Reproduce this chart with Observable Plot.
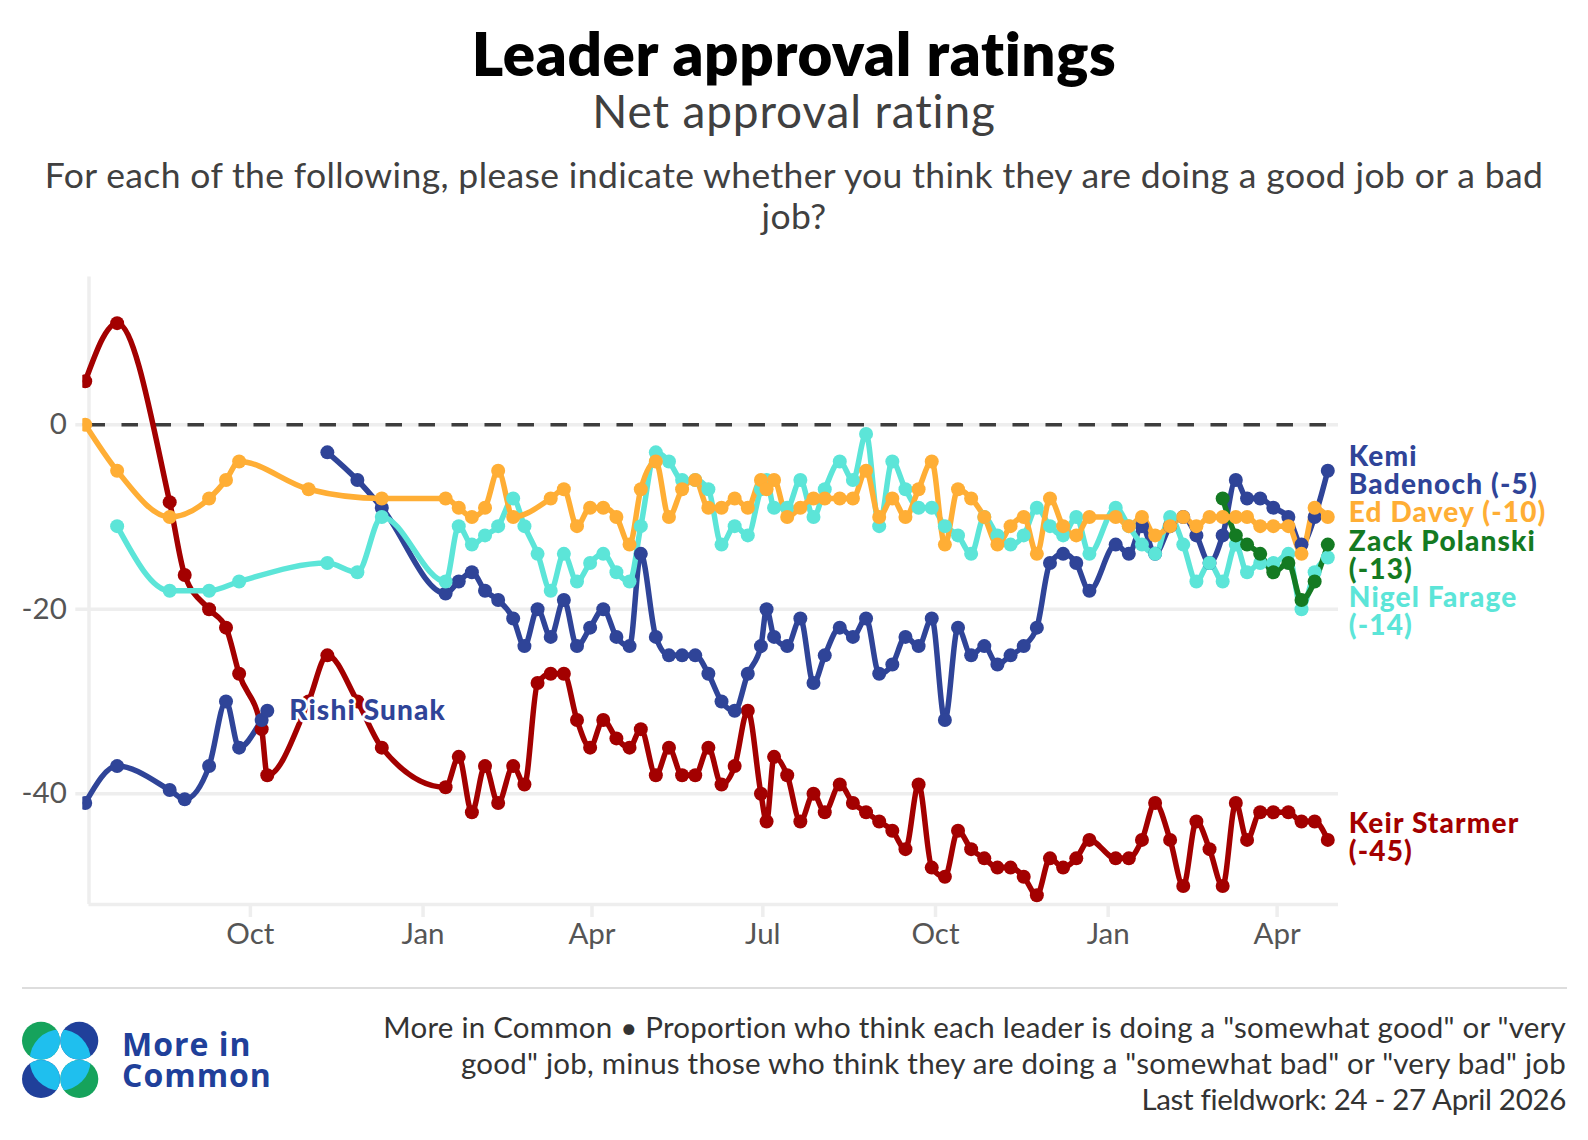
<!DOCTYPE html>
<html lang="en">
<head>
<meta charset="utf-8">
<title>Leader approval ratings</title>
<script src="https://cdn.jsdelivr.net/npm/d3@7"></script>
<script src="https://cdn.jsdelivr.net/npm/@observablehq/plot@0.6"></script>
<style>
  html, body { margin: 0; padding: 0; background: #fff; }
  body { width: 1588px; height: 1140px; position: relative; overflow: hidden; font-family: Lato, sans-serif; }
  .t { position: absolute; left: 0; width: 1588px; text-align: center; white-space: nowrap; }
  #title { top: 18px; font-size: 60px; line-height: 70px; font-weight: 800; letter-spacing: 0.65px; color: #000; }
  #subtitle { top: 84px; font-size: 46px; line-height: 54px; letter-spacing: 0.86px; color: #404040; }
  #question { top: 155px; font-size: 35.5px; line-height: 40.5px; letter-spacing: 0.37px; color: #404040; }
  #chart { position: absolute; left: 0; top: 260px; }
  #rule { position: absolute; left: 22px; width: 1545px; top: 987px; height: 2px; background: #ddd; }
  #foot { position: absolute; right: 22px; top: 1009px; text-align: right; font-size: 29.5px; line-height: 36px; letter-spacing: 0.23px; color: #333; white-space: nowrap; }
  #foot .last { letter-spacing: -0.33px; }
  #logo { position: absolute; left: 0; top: 1000px; }
  #brand { position: absolute; left: 122px; top: 1028px; font-family: "Open Sans", sans-serif; font-weight: 700; font-size: 32px; line-height: 31px; letter-spacing: 1px; color: #20409a; }
  .series-label text { letter-spacing: 1.15px; }
</style>
</head>
<body>
<div id="title" class="t">Leader approval ratings</div>
<div id="subtitle" class="t">Net approval rating</div>
<div id="question" class="t">For each of the following, please indicate whether you think they are doing a good job or a bad<br>job?</div>
<div id="chart"></div>
<div id="rule"></div>
<svg id="logo" width="110" height="110" viewBox="0 1000 110 110" aria-hidden="true">
  <defs><clipPath id="lens"><circle cx="60.2" cy="1060" r="30.5"/></clipPath></defs>
  <circle cx="41" cy="1040.7" r="19" fill="#16a35c"/>
  <circle cx="79.3" cy="1040.7" r="19" fill="#20409a"/>
  <circle cx="41" cy="1079" r="19" fill="#20409a"/>
  <circle cx="79.3" cy="1079" r="19" fill="#16a35c"/>
  <g clip-path="url(#lens)" fill="#1fbfee">
    <circle cx="41" cy="1040.7" r="19"/><circle cx="79.3" cy="1040.7" r="19"/>
    <circle cx="41" cy="1079" r="19"/><circle cx="79.3" cy="1079" r="19"/>
  </g>
</svg>
<div id="brand">More in<br>Common</div>
<div id="foot">More in Common • Proportion who think each leader is doing a "somewhat good" or "very<br>good" job, minus those who think they are doing a "somewhat bad" or "very bad" job<br><span class="last">Last fieldwork: 24 - 27 April 2026</span></div>

<script>
// Survey dates
const earlyDates = ["2024-07-05","2024-07-22","2024-08-19","2024-08-27","2024-09-09","2024-09-18","2024-09-25","2024-10-07","2024-10-10","2024-11-01","2024-11-11","2024-11-27","2024-12-10"];
const weeklyDates = [
  "2025-01-13","2025-01-20","2025-01-27",
  "2025-02-03","2025-02-10","2025-02-18","2025-02-24",
  "2025-03-03","2025-03-10","2025-03-17","2025-03-24","2025-03-31",
  "2025-04-07","2025-04-14","2025-04-21","2025-04-27",
  "2025-05-05","2025-05-12","2025-05-19","2025-05-26",
  "2025-06-02","2025-06-09","2025-06-16","2025-06-23","2025-06-30",
  "2025-07-03","2025-07-07","2025-07-14","2025-07-21","2025-07-28",
  "2025-08-03","2025-08-11","2025-08-18","2025-08-25",
  "2025-09-01","2025-09-08","2025-09-15","2025-09-22","2025-09-29",
  "2025-10-06","2025-10-13","2025-10-20","2025-10-27",
  "2025-11-03","2025-11-10","2025-11-17","2025-11-24",
  "2025-12-01","2025-12-08","2025-12-15","2025-12-22",
  "2026-01-05","2026-01-12","2026-01-19","2026-01-26",
  "2026-02-03","2026-02-10","2026-02-17","2026-02-24",
  "2026-03-03","2026-03-10","2026-03-16","2026-03-23","2026-03-30",
  "2026-04-07","2026-04-14","2026-04-21","2026-04-28"
];

// Net approval, early period (null = not asked that round)
const starmerEarly = [4.7,11,-8.4,-16.3,-20,-22,-27,-33,-38,-30,-25,-30,-35];
const daveyEarly   = [0,-5,-10,null,-8,-6,-4,null,null,-7,null,null,-8];
const farageEarly  = [null,-11,-18,null,-18,null,-17,null,null,null,-15,-16,-10];
const sunakEarly   = [-41,-37,-39.6,-40.6,-37,-30,-35,-32,-31,null,null,null,null];
const kemiEarly    = [null,null,null,null,null,null,null,null,null,null,-3,-6,-9];

// Net approval, weekly period
const starmerWeekly = [
  -39.3,-36,-42, -37,-41,-37,-39, -28,-27,-27,-32,-35, -32,-34,-35,-33,
  -38,-35,-38,-38, -35,-39,-37,-31,-40, -43,-36,-38,-43,-40, -42,-39,-41,-42,
  -43,-44,-46,-39,-48, -49,-44,-46,-47, -48,-48,-49,-51, -47,-48,-47,-45,
  -47,-47,-45,-41, -45,-50,-43,-46, -50,-41,-45,-42,-42, -42,-43,-43,-45
];
const kemiWeekly = [
  -18.3,-17,-16, -18,-19,-21,-24, -20,-23,-19,-24,-22, -20,-23,-24,-14,
  -23,-25,-25,-25, -27,-30,-31,-27,-24, -20,-23,-24,-21,-28, -25,-22,-23,-21,
  -27,-26,-23,-24,-21, -32,-22,-25,-24, -26,-25,-24,-22, -15,-14,-15,-18,
  -13,-14,-11,-14, -11,-10,-12,-15, -12,-6,-8,-8,-9, -10,-13,-10,-5
];
const daveyWeekly = [
  -8,-9,-10, -9,-5,-10,null, null,-8,-7,-11,-9, -9,-10,-13,-7,
  -4,-10,-7,-6, -9,-9,-8,-9,-6, -7,-6,-10,-9,-8, -8,-8,-8,-5,
  -10,-8,-10,-7,-4, -13,-7,-8,-10, -13,-11,-10,-14, -8,-11,-12,-10,
  -10,-11,-10,-12, -11,-10,-11,-10, -10,-10,-10,-11,-11, -11,-14,-9,-10
];
const farageWeekly = [
  -17,-11,-13, -12,-11,-8,-11, -14,-18,-14,-17,-15, -14,-16,-17,-11,
  -3,-4,-6,-6, -7,-13,-11,-12,-7, -6,-9,-9,-6,-10, -7,-4,-6,-1,
  -11,-4,-7,-9,-9, -11,-12,-14,-10, -12,-13,-12,-9, -11,-12,-10,-14,
  -9,-11,-13,-14, -10,-13,-17,-15, -17,-13,-16,-15,-15, -14,-20,-16,-14.4
];
const polanskiDates = ["2026-03-03","2026-03-10","2026-03-16","2026-03-23","2026-03-30","2026-04-07","2026-04-14","2026-04-21","2026-04-28"];
const polanskiValues = [-8,-12,-13,-14,-16,-15,-19,-17,-13];

// Axis labels
const monthTicks = ["2024-10-01","2025-01-01","2025-04-01","2025-07-01","2025-10-01","2026-01-01","2026-04-01"];
const valueTicks = [0,-20,-40];

// Colours
const colors = {red:"#a30000", blue:"#2f4498", turquoise:"#5ce5d8", green:"#147a22", orange:"#ffae35"};

const rows = (dates, values) => dates
  .map((d, i) => ({date: new Date(d), value: values[i]}))
  .filter(d => d.value != null);

const starmer = rows([...earlyDates, ...weeklyDates], [...starmerEarly, ...starmerWeekly]);
const sunak   = rows(earlyDates, sunakEarly);
const kemi    = rows([...earlyDates, ...weeklyDates], [...kemiEarly, ...kemiWeekly]);
const farage  = rows([...earlyDates, ...weeklyDates], [...farageEarly, ...farageWeekly]);
const polanski = rows(polanskiDates, polanskiValues);
const davey   = rows([...earlyDates, ...weeklyDates], [...daveyEarly, ...daveyWeekly]);

const xStart = new Date("2024-07-03T17:00Z");
const xEnd   = new Date("2026-05-03T17:00Z");
const axisDate = new Date("2024-07-07");
const yBottom = -52, yTop = 16;

const curve = "monotone-x";
const order = [[starmer, colors.red],[sunak, colors.blue],[kemi, colors.blue],[farage, colors.turquoise],[polanski, colors.green],[davey, colors.orange]];

const endLabel = (series, text, color, dy) => Plot.text([series[series.length-1]], {
  x: "date", y: "value", text: () => text, fill: color, textAnchor: "start",
  dx: 21, dy, fontSize: 28, fontWeight: 900, lineHeight: 1, lineAnchor: "middle", className: "series-label"
});

const chart = Plot.plot({
  width: 1588, height: 700,
  marginTop: 16.5, marginBottom: 56, marginLeft: 82.3, marginRight: 250,
  style: {fontFamily: "Lato, sans-serif", background: "transparent", overflow: "visible"},
  x: {type: "utc", domain: [xStart, xEnd], label: null},
  y: {domain: [yBottom, yTop], label: null},
  marks: [
    Plot.ruleY([-20,-40], {stroke: "#eee", strokeWidth: 3.5, insetLeft: -7}),
    Plot.ruleY([0], {stroke: "#eee", strokeWidth: 3.5, insetLeft: -7}),
    Plot.ruleY([yBottom], {x1: axisDate, x2: xEnd, stroke: "#eee", strokeWidth: 3.5}),
    Plot.ruleX([axisDate], {y1: yBottom, y2: yTop, stroke: "#eee", strokeWidth: 3.5}),
    Plot.ruleY([0], {x1: axisDate, x2: xEnd, stroke: "#3d3d3d", strokeWidth: 3.5, strokeDasharray: "16.5,16.5"}),
    Plot.axisX({
      ticks: monthTicks.map(d => new Date(d)), tickFormat: d3.utcFormat("%b"),
      tickSize: 13, tickPadding: 6, stroke: "#eee", strokeWidth: 3.5, fill: "#555", fontSize: 29.5, label: null
    }),
    Plot.axisY({ticks: valueTicks, tickFormat: d => String(d), tickSize: 0, tickPadding: 16, fill: "#555", fontSize: 29.5, label: null}),
    ...order.map(([s, c]) => Plot.line(s, {x: "date", y: "value", stroke: c, strokeWidth: 5.5, curve, clip: true})),
    ...order.map(([s, c]) => Plot.dot(s, {x: "date", y: "value", fill: c, r: 7, clip: true})),
    endLabel(kemi, "Kemi\nBadenoch (-5)", colors.blue, 0.5),
    endLabel(davey, "Ed Davey (-10)", colors.orange, -3.5),
    endLabel(polanski, "Zack Polanski\n(-13)", colors.green, 11),
    endLabel(farage, "Nigel Farage\n(-14)", colors.turquoise, 54.5),
    endLabel(starmer, "Keir Starmer\n(-45)", colors.red, -2),
    Plot.text([sunak[sunak.length-1]], {
      x: "date", y: "value", text: () => "Rishi Sunak", fill: colors.blue, textAnchor: "start",
      dx: 22, fontSize: 28, fontWeight: 900, stroke: "#fff", strokeWidth: 5, className: "series-label"
    })
  ]
});
document.getElementById("chart").append(chart);
</script>
</body>
</html>
